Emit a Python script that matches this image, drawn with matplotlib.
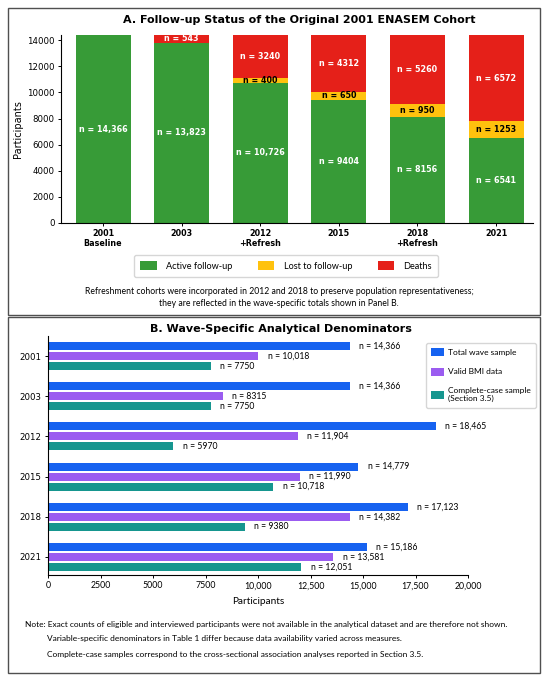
import matplotlib
matplotlib.use("Agg")
import matplotlib.pyplot as plt
from matplotlib.patches import Rectangle

# Panel A data
waves_a = ["2001\nBaseline", "2003", "2012\n+Refresh", "2015", "2018\n+Refresh", "2021"]
active = [14366, 13823, 10726, 9404, 8156, 6541]
lost = [0, 0, 400, 650, 950, 1253]
deaths = [0, 543, 3240, 4312, 5260, 6572]

# Panel B data
waves_b = ["2001", "2003", "2012", "2015", "2018", "2021"]
total_wave = [14366, 14366, 18465, 14779, 17123, 15186]
valid_bmi = [10018, 8315, 11904, 11990, 14382, 13581]
complete_case = [7750, 7750, 5970, 10718, 9380, 12051]

GREEN = "#379b37"
YELLOW = "#ffc20e"
RED = "#e52019"
BLUE = "#1662f0"
PURPLE = "#9b5cf0"
TEAL = "#16968f"

W, H = 550, 682
NARROW = ["Lato", "DejaVu Sans"]


def fmt(v):
    return f"{v:,.0f}" if v >= 10000 else f"{v:.0f}"


def box(x0, y0, x1, y1):
    # pixel box (top-left origin) -> figure fractions
    return [x0 / W, 1 - y1 / H, (x1 - x0) / W, (y1 - y0) / H]


fig = plt.figure(figsize=(5.5, 6.82), dpi=100)

# panel frames
for y0, y1 in [(8, 315), (317, 673)]:
    fig.patches.append(Rectangle((8 / W, 1 - y1 / H), 532 / W, (y1 - y0) / H,
                                 transform=fig.transFigure, fill=False,
                                 edgecolor="#505050", linewidth=1.0))

# ---------------- Panel A ----------------
ax1 = fig.add_axes(box(61, 35, 533, 223))
x = list(range(len(waves_a)))
ax1.bar(x, active, 0.7, color=GREEN, label="Active follow-up")
ax1.bar(x, lost, 0.7, bottom=active, color=YELLOW, label="Lost to follow-up")
bottom2 = [a + l for a, l in zip(active, lost)]
ax1.bar(x, deaths, 0.7, bottom=bottom2, color=RED, label="Deaths")

for i in x:
    ax1.text(i, active[i] / 2, f"n = {fmt(active[i])}", ha="center", va="center",
             color="white", fontsize=5.8, fontweight="bold")
    if lost[i] > 0:
        ax1.text(i, active[i] + lost[i] / 2, f"n = {fmt(lost[i])}", ha="center",
                 va="center", color="black", fontsize=5.8, fontweight="bold")
    if deaths[i] > 0:
        ax1.text(i, bottom2[i] + deaths[i] / 2, f"n = {fmt(deaths[i])}", ha="center",
                 va="center", color="white", fontsize=5.8, fontweight="bold")

ax1.set_xlim(-0.535, 5.47)
ax1.set_ylim(0, 14400)
ax1.set_yticks(range(0, 14001, 2000))
ax1.set_xticks(x)
ax1.set_xticklabels(waves_a, fontweight="bold", fontsize=5.8, linespacing=1.15)
ax1.tick_params(axis="y", labelsize=6.2)
ax1.tick_params(axis="both", length=2.5, width=0.7, pad=2)
ax1.set_ylabel("Participants", fontsize=7, labelpad=3)
ax1.spines["top"].set_visible(False)
ax1.spines["right"].set_visible(False)
for s in ["left", "bottom"]:
    ax1.spines[s].set_linewidth(0.8)
fig.text(299 / W, 1 - 20 / H, "A. Follow-up Status of the Original 2001 ENASEM Cohort",
         ha="center", va="center", fontsize=8, fontweight="bold")

h1, l1 = ax1.get_legend_handles_labels()
fig.legend(h1, l1, loc="center", bbox_to_anchor=(286 / W, 1 - 266 / H), ncol=3,
           prop={"family": NARROW, "size": 6.6}, frameon=True, edgecolor="#cccccc",
           fancybox=True, columnspacing=2.8, handlelength=1.8, handleheight=1.0,
           handletextpad=1.0, borderpad=0.7, borderaxespad=0)

fig.text(279 / W, 1 - 291 / H,
         "Refreshment cohorts were incorporated in 2012 and 2018 to preserve population representativeness;",
         ha="center", va="center", fontsize=6.2, family=NARROW)
fig.text(279 / W, 1 - 303 / H,
         "they are reflected in the wave-specific totals shown in Panel B.",
         ha="center", va="center", fontsize=6.2, family=NARROW)

# ---------------- Panel B ----------------
ax2 = fig.add_axes(box(48, 336, 468, 575))
y = list(range(len(waves_b)))
hgt = 0.2
off = 0.25
series = [(total_wave, BLUE, "Total wave sample", -off),
          (valid_bmi, PURPLE, "Valid BMI data", 0),
          (complete_case, TEAL, "Complete-case sample\n(Section 3.5)", off)]
for vals, col, lab, o in series:
    pos = [yy + o for yy in y]
    ax2.barh(pos, vals, hgt, color=col, label=lab)
    for p, v in zip(pos, vals):
        ax2.text(v + 450, p, f"n = {fmt(v)}", ha="left", va="center",
                 fontsize=6.2, family=NARROW)

ax2.set_xlim(0, 20000)
ax2.set_ylim(5.45, -0.5)
ax2.set_yticks(y)
ax2.set_yticklabels(waves_b, fontsize=6.2)
xt = list(range(0, 20001, 2500))
ax2.set_xticks(xt)
ax2.set_xticklabels([fmt(v) for v in xt], fontsize=6.3, family=NARROW)
ax2.tick_params(axis="both", length=2.5, width=0.7, pad=2)
ax2.set_xlabel("Participants", fontsize=7.2, family=NARROW, labelpad=5)
ax2.spines["top"].set_visible(False)
ax2.spines["right"].set_visible(False)
for s in ["left", "bottom"]:
    ax2.spines[s].set_linewidth(0.8)
fig.text(281 / W, 1 - 329 / H, "B. Wave-Specific Analytical Denominators",
         ha="center", va="center", fontsize=8, fontweight="bold")

fig.legend(*ax2.get_legend_handles_labels(), loc="upper left",
           bbox_to_anchor=(426 / W, 1 - 343 / H),
           prop={"family": NARROW, "size": 6.0}, frameon=True, edgecolor="#cccccc",
           handlelength=1.5, handleheight=1.1, labelspacing=1.35, borderpad=0.65,
           handletextpad=0.45, borderaxespad=0)

fig.text(25 / W, 1 - 625 / H,
         "Note: Exact counts of eligible and interviewed participants were not available in the analytical dataset and are therefore not shown.",
         ha="left", va="center", fontsize=6.0, family=NARROW)
fig.text(47 / W, 1 - 639 / H,
         "Variable-specific denominators in Table 1 differ because data availability varied across measures.",
         ha="left", va="center", fontsize=6.0, family=NARROW)
fig.text(47 / W, 1 - 654 / H,
         "Complete-case samples correspond to the cross-sectional association analyses reported in Section 3.5.",
         ha="left", va="center", fontsize=6.0, family=NARROW)

fig.savefig("out.png", dpi=100)
